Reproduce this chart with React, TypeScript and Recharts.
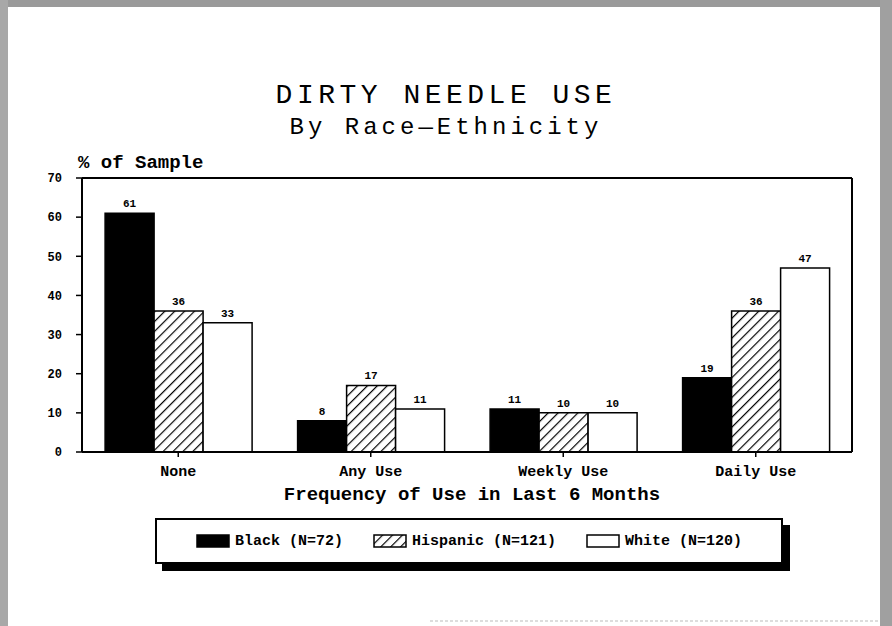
import React from 'react';
import { BarChart, Bar, XAxis, YAxis, LabelList, Legend } from 'recharts';

const categories = ['None', 'Any Use', 'Weekly Use', 'Daily Use'];
const blackValues = [61, 8, 11, 19];
const hispanicValues = [36, 17, 10, 36];
const whiteValues = [33, 11, 10, 47];
const yTicks = [0, 10, 20, 30, 40, 50, 60, 70];
const seriesNames = ['Black (N=72)', 'Hispanic (N=121)', 'White (N=120)'];

const data = categories.map((c, i) => ({
  category: c,
  black: blackValues[i],
  hispanic: hispanicValues[i],
  white: whiteValues[i],
}));

const MONO = '"Liberation Mono", "DejaVu Sans Mono", monospace';

const Swatch = ({ kind }: { kind: string }) => (
  <svg width={34} height={14} style={{ display: 'block' }}>
    <defs>
      <pattern id="hatchLegend" patternUnits="userSpaceOnUse" width="7" height="7" patternTransform="rotate(45)">
        <rect width="7" height="7" fill="#fff" />
        <line x1="0" y1="0" x2="0" y2="7" stroke="#000" strokeWidth="2.4" />
      </pattern>
    </defs>
    <rect
      x={1}
      y={1}
      width={32}
      height={12}
      fill={kind === 'black' ? '#000' : kind === 'hispanic' ? 'url(#hatchLegend)' : '#fff'}
      stroke="#000"
      strokeWidth={1.5}
    />
  </svg>
);

const LegendBox = () => {
  const kinds = ['black', 'hispanic', 'white'];
  return (
    <div
      style={{
        boxSizing: 'border-box',
        width: 628,
        height: 46,
        border: '2px solid #000',
        boxShadow: '7px 7px 0 #000',
        background: '#fff',
        display: 'flex',
        alignItems: 'center',
        justifyContent: 'center',
        gap: 30,
        fontFamily: MONO,
        fontWeight: 'bold',
        fontSize: 15,
        color: '#000',
      }}
    >
      {kinds.map((k, i) => (
        <div key={k} style={{ display: 'flex', alignItems: 'center', gap: 5 }}>
          <Swatch kind={k} />
          <span>{seriesNames[i]}</span>
        </div>
      ))}
    </div>
  );
};

const XLabel = (props: any) => {
  const vb = props.viewBox || {};
  return (
    <text
      x={472}
      y={vb.y + 43}
      textAnchor="middle"
      dominantBaseline="central"
      fontFamily={MONO}
      fontWeight="bold"
      fontSize={19}
      fill="#000"
    >
      Frequency of Use in Last 6 Months
    </text>
  );
};

export default function App() {
  const labelStyle = { fontFamily: MONO, fontWeight: 'bold', fontSize: 11, fill: '#000' } as any;
  return (
    <div style={{ position: 'absolute', left: 0, top: 0, width: 892, height: 626, background: '#fff' }}>
      <BarChart
        width={892}
        height={626}
        data={data}
        margin={{ top: 177, right: 39, bottom: 0, left: 0 }}
        barCategoryGap="12%"
        barGap={0}
      >
        <defs>
          <pattern id="hatch" patternUnits="userSpaceOnUse" width="7" height="7" patternTransform="rotate(45)">
            <rect width="7" height="7" fill="#fff" />
            <line x1="0" y1="0" x2="0" y2="7" stroke="#000" strokeWidth="2.4" />
          </pattern>
        </defs>
        <XAxis
          dataKey="category"
          xAxisId="bottom"
          height={174}
          tickSize={5}
          tickMargin={8}
          axisLine={{ stroke: '#000', strokeWidth: 2 }}
          tickLine={{ stroke: '#000', strokeWidth: 1.5 }}
          tick={{ fontFamily: MONO, fontWeight: 'bold', fontSize: 15, fill: '#000' }}
          label={<XLabel />}
        />
        <XAxis
          dataKey="category"
          xAxisId="top"
          orientation="top"
          height={1}
          tick={false}
          tickLine={false}
          axisLine={{ stroke: '#000', strokeWidth: 2 }}
        />
        <YAxis
          yAxisId="left"
          width={82}
          domain={[0, 70]}
          ticks={yTicks}
          interval={0}
          tickSize={6}
          tickMargin={14}
          axisLine={{ stroke: '#000', strokeWidth: 2 }}
          tickLine={{ stroke: '#000', strokeWidth: 1.5 }}
          tick={{ fontFamily: MONO, fontWeight: 'bold', fontSize: 12, fill: '#000' }}
        />
        <YAxis
          yAxisId="right"
          orientation="right"
          width={1}
          domain={[0, 70]}
          tick={false}
          tickLine={false}
          axisLine={{ stroke: '#000', strokeWidth: 2 }}
        />
        <Legend
          layout="horizontal"
          verticalAlign="middle"
          align="center"
          content={() => <LegendBox />}
          wrapperStyle={{ left: 155, top: 518, width: 628, height: 46 }}
        />
        <Bar dataKey="black" name={seriesNames[0]} xAxisId="bottom" yAxisId="left" fill="#000" stroke="#000" strokeWidth={1.5} isAnimationActive={false}>
          <LabelList dataKey="black" position="top" offset={6} style={labelStyle} />
        </Bar>
        <Bar dataKey="hispanic" name={seriesNames[1]} xAxisId="bottom" yAxisId="left" fill="url(#hatch)" stroke="#000" strokeWidth={1.5} isAnimationActive={false}>
          <LabelList dataKey="hispanic" position="top" offset={6} style={labelStyle} />
        </Bar>
        <Bar dataKey="white" name={seriesNames[2]} xAxisId="bottom" yAxisId="left" fill="#fff" stroke="#000" strokeWidth={1.5} isAnimationActive={false}>
          <LabelList dataKey="white" position="top" offset={6} style={labelStyle} />
        </Bar>
      </BarChart>
      <svg width={892} height={626} style={{ position: 'absolute', left: 0, top: 0, pointerEvents: 'none' }}>
        <rect x={0} y={0} width={892} height={7} fill="#9a9a9a" />
        <rect x={0} y={0} width={8} height={626} fill="#a8a8a8" />
        <rect x={880} y={0} width={12} height={626} fill="#a0a0a0" />
        <line x1={430} y1={621} x2={880} y2={621} stroke="#bbb" strokeWidth={1} strokeDasharray="3 2" />
        <text x={446} y={95} textAnchor="middle" dominantBaseline="central" fontFamily={MONO} fontSize={28} letterSpacing={4.5} fill="#000">
          DIRTY NEEDLE USE
        </text>
        <text x={446} y={127} textAnchor="middle" dominantBaseline="central" fontFamily={MONO} fontSize={24} letterSpacing={4} fill="#000">
          By Race{'\u2014'}Ethnicity
        </text>
        <text x={78} y={163} textAnchor="start" dominantBaseline="central" fontFamily={MONO} fontWeight="bold" fontSize={19} fill="#000">
          % of Sample
        </text>
      </svg>
    </div>
  );
}
